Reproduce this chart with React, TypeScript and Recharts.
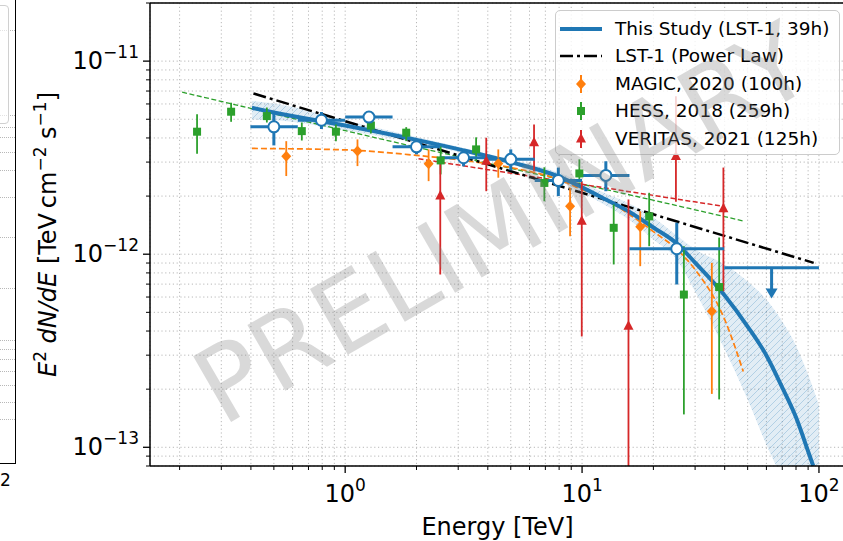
import React from 'react';
import {
  ComposedChart,
  Line,
  Area,
  Scatter,
  ErrorBar,
  XAxis,
  YAxis,
  CartesianGrid,
  ReferenceLine,
} from 'recharts';

// axis limits and ticks
const X_MIN = 0.15;
const X_MAX = 128.8;
const Y_MIN = 8e-14;
const Y_MAX = 2e-11;
const X_TICKS = [
  0.2, 0.3, 0.4, 0.5, 0.6, 0.7, 0.8, 0.9, 1, 2, 3, 4, 5, 6, 7, 8, 9, 10, 20, 30, 40, 50, 60, 70, 80, 90, 100,
];
const Y_TICKS = [
  8e-14, 9e-14, 1e-13, 2e-13, 3e-13, 4e-13, 5e-13, 6e-13, 7e-13, 8e-13, 9e-13, 1e-12, 2e-12, 3e-12, 4e-12,
  5e-12, 6e-12, 7e-12, 8e-12, 9e-12, 1e-11, 2e-11,
];

// LST-1 flux points (TeV, TeV cm-2 s-1)
const LST_E = [0.5, 0.794, 1.26, 2.0, 3.16, 5.0, 7.94, 12.6, 25.1];
const LST_E_LO = [0.398, 0.631, 1.0, 1.585, 2.512, 3.981, 6.31, 10.0, 15.85];
const LST_E_HI = [0.631, 1.0, 1.585, 2.512, 3.981, 6.31, 10.0, 15.85, 39.81];
const LST_FLUX = [4.57e-12, 4.94e-12, 5.13e-12, 3.6e-12, 3.16e-12, 3.1e-12, 2.41e-12, 2.56e-12, 1.067e-12];
const LST_FLUX_LO = [3.66e-12, 4.45e-12, 4.8e-12, 3.29e-12, 2.85e-12, 2.72e-12, 2.0e-12, 2.12e-12, 6.97e-13];
const LST_FLUX_HI = [5.41e-12, 5.45e-12, 5.5e-12, 3.85e-12, 3.49e-12, 3.49e-12, 2.81e-12, 3.03e-12, 1.455e-12];

// LST-1 upper limit
const UL_E = [63.1];
const UL_E_LO = [39.81];
const UL_E_HI = [100];
const UL_FLUX = [8.5e-13];
const UL_ARROW_END = [6.25e-13];

// LST-1 log-parabola and its band
const LST_CURVE_E = [0.404, 0.5, 1, 2, 3.16, 5, 7.94, 10, 12.6, 15.8, 20, 25.1, 30, 40, 50, 60, 70, 80, 90, 94.6];
const LST_CURVE_F = [
  5.73e-12, 5.42e-12, 4.64e-12, 3.91e-12, 3.45e-12, 3.0e-12, 2.53e-12, 2.22e-12, 1.92e-12, 1.66e-12, 1.375e-12,
  1.136e-12, 9.04e-13, 6.11e-13, 4.22e-13, 2.99e-13, 2.04e-13, 1.43e-13, 9.53e-14, 8.0e-14,
];
const BAND_E = [0.404, 0.5, 1, 2, 3.16, 5, 7.94, 10, 12.6, 15.8, 20, 25.1, 30, 40, 50, 60, 70, 80, 90, 100];
const BAND_LO = [
  4.99e-12, 4.95e-12, 4.37e-12, 3.77e-12, 3.34e-12, 2.92e-12, 2.41e-12, 2.09e-12, 1.79e-12, 1.51e-12, 1.19e-12,
  9.38e-13, 6.41e-13, 3.21e-13, 1.77e-13, 1.03e-13, 6.8e-14, 4.48e-14, 2.95e-14, 1.95e-14,
];
const BAND_HI = [
  6.21e-12, 6.04e-12, 4.93e-12, 4.05e-12, 3.55e-12, 3.09e-12, 2.65e-12, 2.35e-12, 2.06e-12, 1.83e-12, 1.55e-12,
  1.25e-12, 1.06e-12, 8.84e-13, 7.22e-13, 5.82e-13, 4.48e-13, 3.36e-13, 2.38e-13, 1.65e-13,
];

// LST-1 power law
const PL_E = [0.41, 95];
const PL_F = [6.8e-12, 9.02e-13];

// MAGIC 2020
const MAGIC_E = [0.564, 1.127, 2.25, 4.43, 8.9, 17.6, 35.3];
const MAGIC_F = [3.22e-12, 3.42e-12, 2.94e-12, 2.95e-12, 1.77e-12, 1.387e-12, 5.07e-13];
const MAGIC_LO = [2.54e-12, 2.86e-12, 2.39e-12, 2.49e-12, 1.24e-12, 8.67e-13, 1.89e-13];
const MAGIC_HI = [3.85e-12, 3.93e-12, 3.49e-12, 3.49e-12, 2.21e-12, 1.67e-12, 9.02e-13];
const MAGIC_FIT_E = [0.404, 1, 2, 3.16, 5, 7.94, 10, 12.6, 15.8, 20, 25.1, 30, 40, 47.9];
const MAGIC_FIT_F = [
  3.53e-12, 3.47e-12, 3.25e-12, 3.06e-12, 2.81e-12, 2.44e-12, 2.16e-12, 1.92e-12, 1.61e-12, 1.31e-12, 1.06e-12,
  8.33e-13, 4.59e-13, 2.47e-13,
];

// HESS 2018
const HESS_E = [0.237, 0.33, 0.467, 0.656, 0.914, 1.284, 1.81, 2.53, 3.57, 6.93, 9.74, 13.6, 19.2, 26.9, 37.9];
const HESS_F = [
  4.31e-12, 5.47e-12, 5.19e-12, 4.34e-12, 4.31e-12, 4.64e-12, 4.26e-12, 3.06e-12, 3.49e-12, 2.34e-12, 2.62e-12,
  1.37e-12, 1.57e-12, 6.18e-13, 6.76e-13,
];
const HESS_LO = [
  3.31e-12, 4.85e-12, 4.81e-12, 3.88e-12, 3.85e-12, 4.22e-12, 3.85e-12, 2.59e-12, 3.03e-12, 1.88e-12, 2.35e-12,
  8.85e-13, 1.1e-12, 1.48e-13, 1.77e-13,
];
const HESS_HI = [
  5.3e-12, 6.09e-12, 5.75e-12, 4.81e-12, 4.7e-12, 5.1e-12, 4.55e-12, 3.61e-12, 4.03e-12, 2.82e-12, 3.1e-12,
  1.81e-12, 2.08e-12, 1.1e-12, 1.22e-12,
];
const HESS_FIT_E = [0.205, 1.405, 25.9, 48.7];
const HESS_FIT_F = [6.91e-12, 3.96e-12, 1.77e-12, 1.48e-12];

// VERITAS 2021
const VER_E = [2.52, 3.94, 6.27, 9.97, 15.7, 24.9, 39.5];
const VER_F = [2.0e-12, 3.03e-12, 3.78e-12, 1.48e-12, 4.24e-13, 3.21e-12, 1.72e-12];
const VER_LO = [7.85e-13, 2.12e-12, 2.69e-12, 3.75e-13, Y_MIN, 1.87e-12, 6.43e-13];
const VER_HI = [3.1e-12, 4.01e-12, 4.7e-12, 2.39e-12, 1.92e-12, 6.57e-12, 2.81e-12];
const VER_FIT_E = [2.04, 39.5];
const VER_FIT_F = [3.12e-12, 1.77e-12];

const LEGEND_LABELS = [
  'This Study (LST-1, 39h)',
  'LST-1 (Power Law)',
  'MAGIC, 2020 (100h)',
  'HESS, 2018 (259h)',
  'VERITAS, 2021 (125h)',
];

const BLUE = '#1f77b4';
const ORANGE = '#ff7f0e';
const GREEN = '#2ca02c';
const RED = '#d62728';
const FONT = '"DejaVu Sans", "Liberation Sans", sans-serif';

const line = (E: number[], F: number[]) => E.map((e, i) => ({ E: e, v: F[i] }));
const points = (E: number[], F: number[], lo: number[], hi: number[]) =>
  E.map((e, i) => ({ E: e, v: F[i], ey: [F[i] - lo[i], hi[i] - F[i]] }));

const lstData = LST_E.map((e, i) => ({
  E: e,
  v: LST_FLUX[i],
  ex: [e - LST_E_LO[i], LST_E_HI[i] - e],
  ey: [LST_FLUX[i] - LST_FLUX_LO[i], LST_FLUX_HI[i] - LST_FLUX[i]],
}));
const ulData = UL_E.map((e, i) => ({
  E: e,
  v: UL_FLUX[i],
  ex: [e - UL_E_LO[i], UL_E_HI[i] - e],
  ey: [UL_FLUX[i] - UL_ARROW_END[i], 0],
}));
const ulArrow = line(UL_E, UL_ARROW_END);
const bandData = BAND_E.map((e, i) => ({ E: e, range: [BAND_LO[i], BAND_HI[i]] }));

const isMajor = (v: number) => {
  const l = Math.log10(v);
  return Math.abs(l - Math.round(l)) < 1e-6;
};
const expText = (v: number) => {
  const n = Math.round(Math.log10(v));
  return n < 0 ? `\u2212${-n}` : `${n}`;
};

const XTick = (props: any) => {
  const { x, y, payload } = props;
  const major = isMajor(payload.value);
  return (
    <g>
      <line x1={x} x2={x} y1={y} y2={y + (major ? 7 : 4)} stroke="#000" strokeWidth={major ? 1.3 : 1} />
      {major && (
        <text x={x} y={y + 36} textAnchor="middle" fontSize={24} fill="#000" fontFamily={FONT}>
          10
          <tspan dy={-11} fontSize={17}>
            {expText(payload.value)}
          </tspan>
        </text>
      )}
    </g>
  );
};

const YTick = (props: any) => {
  const { x, y, payload } = props;
  const major = isMajor(payload.value);
  return (
    <g>
      <line x1={x - (major ? 7 : 4)} x2={x} y1={y} y2={y} stroke="#000" strokeWidth={major ? 1.3 : 1} />
      {major && (
        <text x={x - 11} y={y + 8} textAnchor="end" fontSize={24} fill="#000" fontFamily={FONT}>
          10
          <tspan dy={-11} fontSize={17}>
            {expText(payload.value)}
          </tspan>
        </text>
      )}
    </g>
  );
};

const XTitle = (props: any) => {
  const { viewBox } = props;
  return (
    <text x={viewBox.x + viewBox.width / 2} y={viewBox.y + 69} textAnchor="middle" fontSize={24} fill="#000" fontFamily={FONT}>
      Energy [TeV]
    </text>
  );
};

const YTitle = (props: any) => {
  const { viewBox } = props;
  const cx = viewBox.x + 56;
  const cy = viewBox.y + viewBox.height / 2;
  return (
    <text x={cx} y={cy} transform={`rotate(-90 ${cx} ${cy})`} textAnchor="middle" fontSize={24} fill="#000" fontFamily={FONT}>
      <tspan fontStyle="italic">E</tspan>
      <tspan dy={-10} fontSize={17}>2</tspan>
      <tspan dy={10} fontStyle="italic">{' dN/dE'}</tspan>
      <tspan>{' [TeV\u2009cm'}</tspan>
      <tspan dy={-10} fontSize={17}>{'\u22122'}</tspan>
      <tspan dy={10}>{' s'}</tspan>
      <tspan dy={-10} fontSize={17}>{'\u22121'}</tspan>
      <tspan dy={10}>]</tspan>
    </text>
  );
};

const diamond = (p: any) => (
  <path d={`M${p.cx},${p.cy - 5.5}L${p.cx + 5},${p.cy}L${p.cx},${p.cy + 5.5}L${p.cx - 5},${p.cy}Z`} fill={ORANGE} />
);
const square = (p: any) => <rect x={p.cx - 4} y={p.cy - 4} width={8} height={8} fill={GREEN} />;
const triangle = (p: any) => (
  <path d={`M${p.cx},${p.cy - 6}L${p.cx + 5},${p.cy + 3.5}L${p.cx - 5},${p.cy + 3.5}Z`} fill={RED} />
);
const openCircle = (p: any) => <circle cx={p.cx} cy={p.cy} r={5.5} fill="#fff" stroke={BLUE} strokeWidth={2} />;
const noMarker = () => <g />;
const arrowHead = (p: any) => (
  <path d={`M${p.cx - 6},${p.cy - 5}L${p.cx + 6},${p.cy - 5}L${p.cx},${p.cy + 5}Z`} fill={BLUE} />
);

const LegendIcon = ({ i }: { i: number }) => (
  <svg width={42} height={20} style={{ display: 'block' }}>
    {i === 0 && <line x1={0} x2={42} y1={10} y2={10} stroke={BLUE} strokeWidth={4} />}
    {i === 1 && <line x1={0} x2={42} y1={10} y2={10} stroke="#000" strokeWidth={2.5} strokeDasharray="13 4 3 4" />}
    {i >= 2 && <line x1={21} x2={21} y1={1} y2={19} stroke={[ORANGE, GREEN, RED][i - 2]} strokeWidth={2} />}
    {i === 2 && <path d="M21,4.5L26,10L21,15.5L16,10Z" fill={ORANGE} />}
    {i === 3 && <rect x={17} y={6} width={8} height={8} fill={GREEN} />}
    {i === 4 && <path d="M21,4L26,13.5L16,13.5Z" fill={RED} />}
  </svg>
);

const LegendBox = () => (
  <div
    style={{
      position: 'absolute',
      left: 555,
      top: 10,
      width: 285,
      height: 145,
      boxSizing: 'border-box',
      background: 'rgba(255,255,255,0.8)',
      border: '1px solid #cccccc',
      borderRadius: 5,
    }}
  >
    {LEGEND_LABELS.map((label, i) => (
      <div key={label} style={{ position: 'absolute', left: 4, top: 8 + i * 27.4, display: 'flex', alignItems: 'center' }}>
        <LegendIcon i={i} />
        <span style={{ marginLeft: 13, fontSize: 18.5, lineHeight: '20px', color: '#000', whiteSpace: 'nowrap' }}>{label}</span>
      </div>
    ))}
  </div>
);

// the edge of the neighbouring panel that is cut off on the left
const STUB_GRID = [30, 115, 127, 137, 152, 170, 197, 237, 288, 340, 349, 359, 371, 385, 402, 419];
const LeftStub = () => (
  <>
    {STUB_GRID.map((g) => (
      <div key={g} style={{ position: 'absolute', left: 0, top: g, width: 15, borderTop: '1px dotted #b8b8b8' }} />
    ))}
    <div
      style={{
        position: 'absolute',
        left: -20,
        top: 5,
        width: 27,
        height: 117,
        border: '1px solid #d0d0d0',
        borderRadius: 4,
        background: 'rgba(255,255,255,0.6)',
      }}
    />
    <div
      style={{
        position: 'absolute',
        left: -2,
        top: -2,
        width: 17,
        height: 465,
        borderRight: '1.5px solid #000',
        borderBottom: '1.5px solid #000',
      }}
    />
    <span style={{ position: 'absolute', left: 0, top: 470, fontSize: 17, color: '#000' }}>2</span>
  </>
);

export default function App() {
  return (
    <div
      style={{
        position: 'absolute',
        left: 0,
        top: 0,
        width: 843,
        height: 541,
        overflow: 'hidden',
        background: '#fff',
        fontFamily: FONT,
      }}
    >
      <LeftStub />
      <div style={{ position: 'absolute', left: 0, top: 0 }}>
        <ComposedChart width={850} height={541} margin={{ top: 3, right: 5, bottom: 0, left: 0 }}>
          <defs>
            <pattern id="lstHatch" patternUnits="userSpaceOnUse" width={7} height={7}>
              <rect width={7} height={7} fill={BLUE} fillOpacity={0.22} />
              <path d="M-1,1 l2,-2 M0,7 l7,-7 M6,8 l2,-2" stroke={BLUE} strokeOpacity={0.45} strokeWidth={1} />
            </pattern>
          </defs>
          <CartesianGrid stroke="#b8b8b8" strokeDasharray="1.2 2.6" />
          <XAxis
            dataKey="E"
            type="number"
            scale="log"
            domain={[X_MIN, X_MAX]}
            ticks={X_TICKS}
            interval={0}
            allowDataOverflow
            height={75}
            tickSize={0}
            tickMargin={0}
            tickLine={false}
            tick={XTick}
            axisLine={{ stroke: '#000', strokeWidth: 1.5 }}
            label={<XTitle />}
          />
          <YAxis
            dataKey="v"
            type="number"
            scale="log"
            domain={[Y_MIN, Y_MAX]}
            ticks={Y_TICKS}
            interval={0}
            allowDataOverflow
            width={150}
            tickSize={0}
            tickMargin={0}
            tickLine={false}
            tick={YTick}
            axisLine={{ stroke: '#000', strokeWidth: 1.5 }}
            label={<YTitle />}
          />
          <ReferenceLine y={Y_MAX} stroke="#000" strokeWidth={1.5} />

          <Line data={line(HESS_FIT_E, HESS_FIT_F)} dataKey="v" type="monotone" stroke={GREEN} strokeWidth={1.3} strokeDasharray="5 2.5" dot={false} activeDot={false} isAnimationActive={false} />
          <Line data={line(VER_FIT_E, VER_FIT_F)} dataKey="v" type="linear" stroke={RED} strokeWidth={1.5} strokeDasharray="5 2.5" dot={false} activeDot={false} isAnimationActive={false} />
          <Line data={line(MAGIC_FIT_E, MAGIC_FIT_F)} dataKey="v" type="monotone" stroke={ORANGE} strokeWidth={1.7} strokeDasharray="6 3" dot={false} activeDot={false} isAnimationActive={false} />
          <Area data={bandData} dataKey="range" type="monotone" stroke="none" fill="url(#lstHatch)" isAnimationActive={false} activeDot={false} />
          <Line data={line(PL_E, PL_F)} dataKey="v" type="linear" stroke="#000" strokeWidth={2.5} strokeDasharray="13 4 3 4" dot={false} activeDot={false} isAnimationActive={false} />
          <Line data={line(LST_CURVE_E, LST_CURVE_F)} dataKey="v" type="monotone" stroke={BLUE} strokeWidth={4} dot={false} activeDot={false} isAnimationActive={false} />

          <Scatter data={points(MAGIC_E, MAGIC_F, MAGIC_LO, MAGIC_HI)} shape={diamond} isAnimationActive={false}>
            <ErrorBar dataKey="ey" direction="y" width={0} stroke={ORANGE} strokeWidth={1.8} />
          </Scatter>
          <Scatter data={points(HESS_E, HESS_F, HESS_LO, HESS_HI)} shape={square} isAnimationActive={false}>
            <ErrorBar dataKey="ey" direction="y" width={0} stroke={GREEN} strokeWidth={1.8} />
          </Scatter>
          <Scatter data={points(VER_E, VER_F, VER_LO, VER_HI)} shape={triangle} isAnimationActive={false}>
            <ErrorBar dataKey="ey" direction="y" width={0} stroke={RED} strokeWidth={1.8} />
          </Scatter>
          <Scatter data={ulData} shape={noMarker} isAnimationActive={false}>
            <ErrorBar dataKey="ex" direction="x" width={0} stroke={BLUE} strokeWidth={3} />
            <ErrorBar dataKey="ey" direction="y" width={0} stroke={BLUE} strokeWidth={3} />
          </Scatter>
          <Scatter data={ulArrow} shape={arrowHead} isAnimationActive={false} />
          <Scatter data={lstData} shape={openCircle} isAnimationActive={false}>
            <ErrorBar dataKey="ex" direction="x" width={0} stroke={BLUE} strokeWidth={3} />
            <ErrorBar dataKey="ey" direction="y" width={0} stroke={BLUE} strokeWidth={3} />
          </Scatter>
        </ComposedChart>
      </div>
      <LegendBox />
      <svg width={843} height={541} style={{ position: 'absolute', left: 0, top: 0, pointerEvents: 'none' }}>
        <text
          x={502}
          y={224}
          transform="rotate(-30 502 224)"
          textAnchor="middle"
          dominantBaseline="central"
          fontSize={104}
          fill="#808080"
          fillOpacity={0.3}
          fontFamily={FONT}
        >
          PRELIMINARY
        </text>
      </svg>
    </div>
  );
}
